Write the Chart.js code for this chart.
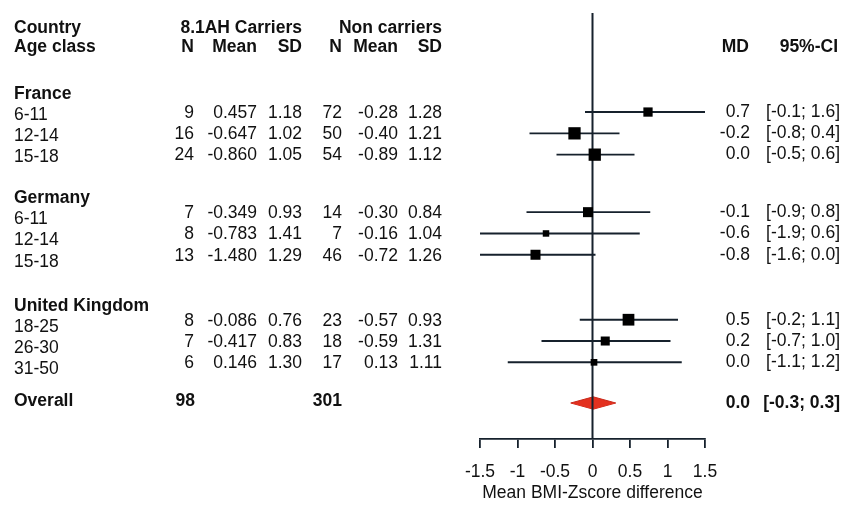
<!DOCTYPE html>
<html lang="en">
<head>
<meta charset="UTF-8">
<title>BMI Z-score forest plot</title>
<script src="https://cdn.jsdelivr.net/npm/chart.js"></script>
<style>
  body { margin: 0; background: #ffffff; }
  #wrap { width: 845px; height: 506px; }
</style>
</head>
<body>
<div id="wrap"><canvas id="forest"></canvas></div>
<script>
// Study table
const countries = ['France', 'Germany', 'United Kingdom'];
const countryOf = [0, 0, 0, 1, 1, 1, 2, 2, 2];
const ageClasses = ['6-11', '12-14', '15-18', '6-11', '12-14', '15-18', '18-25', '26-30', '31-50'];

const carrierN = [9, 16, 24, 7, 8, 13, 8, 7, 6];
const carrierMean = [0.457, -0.647, -0.860, -0.349, -0.783, -1.480, -0.086, -0.417, 0.146];
const carrierSD = [1.18, 1.02, 1.05, 0.93, 1.41, 1.29, 0.76, 0.83, 1.30];

const nonN = [72, 50, 54, 14, 7, 46, 23, 18, 17];
const nonMean = [-0.28, -0.40, -0.89, -0.30, -0.16, -0.72, -0.57, -0.59, 0.13];
const nonSD = [1.28, 1.21, 1.12, 0.84, 1.04, 1.26, 0.93, 1.31, 1.11];

// mean difference with 95% CI, and relative weight (%)
const md = [0.74, -0.24, 0.03, -0.06, -0.62, -0.76, 0.48, 0.17, 0.02];
const ciLow = [-0.10, -0.84, -0.48, -0.88, -1.87, -1.56, -0.17, -0.68, -1.13];
const ciHigh = [1.57, 0.36, 0.56, 0.77, 0.63, 0.04, 1.14, 1.04, 1.19];
const weights = [9.6, 16.9, 16.9, 11.2, 4.7, 11.2, 15.4, 9.1, 5.0];

const overallMd = 0.01;
const overallLow = -0.29;
const overallHigh = 0.31;
const totalCarriers = 98;
const totalNon = 301;

const xTicks = [-1.5, -1, -0.5, 0, 0.5, 1, 1.5];

// row layout (in row units on the y scale)
const Y_MIN = -4.65, Y_MAX = 15.35;
const groupStart = [0, 4.7, 9.75];
const labelShift = [3, 7, 7];
const rowOf = countryOf.map((g, i) => groupStart[g] + (i - countryOf.indexOf(g)));
const overallRow = 13.66;

const INK = '#111111';
const LINE = '#16212c';
const FONT = '"Liberation Sans", Arial, sans-serif';
const SIZE = 17.5;

const datasets = [];

// squares, sized by weight
datasets.push({
  data: md.map((m, i) => ({ x: m, y: rowOf[i] })),
  pointStyle: 'rect',
  pointRadius: weights.map(w => 2.99 * Math.sqrt(w) / Math.SQRT2),
  backgroundColor: '#000000',
  borderWidth: 0,
  order: 0
});

// line of no effect
datasets.push({
  data: [{ x: 0, y: Y_MIN }, { x: 0, y: Y_MAX }],
  showLine: true,
  pointRadius: 0,
  borderColor: LINE,
  borderWidth: 2,
  order: 1
});

// confidence intervals
md.forEach((m, i) => {
  datasets.push({
    data: [{ x: ciLow[i], y: rowOf[i] }, { x: ciHigh[i], y: rowOf[i] }],
    showLine: true,
    pointRadius: 0,
    borderColor: LINE,
    borderWidth: 1.9,
    order: 2
  });
});

// overall diamond: upper half filled down to lower half
const halfH = 0.29;
datasets.push({
  data: [{ x: overallLow, y: overallRow }, { x: overallMd, y: overallRow - halfH }, { x: overallHigh, y: overallRow }],
  showLine: true,
  pointRadius: 0,
  borderColor: '#c8281a',
  borderWidth: 1,
  backgroundColor: '#e3311f',
  fill: '+1',
  tension: 0,
  order: 3
});
datasets.push({
  data: [{ x: overallLow, y: overallRow }, { x: overallMd, y: overallRow + halfH }, { x: overallHigh, y: overallRow }],
  showLine: true,
  pointRadius: 0,
  borderColor: '#c8281a',
  borderWidth: 1,
  tension: 0,
  order: 3
});

// table columns drawn around the plot
const tablePlugin = {
  id: 'forestTable',
  afterDraw(chart) {
    const ctx = chart.ctx;
    const yOf = v => chart.scales.y.getPixelForValue(v);
    const put = (txt, x, y, align, bold) => {
      ctx.font = (bold ? 'bold ' : '') + SIZE + 'px ' + FONT;
      ctx.textAlign = align;
      ctx.fillText(txt, x, y);
    };
    ctx.save();
    ctx.fillStyle = INK;
    ctx.textBaseline = 'middle';

    const h1 = 28, h2 = 47;
    put('Country', 14, h1, 'left', true);
    put('Age class', 14, h2, 'left', true);
    put('8.1AH Carriers', 302, h1, 'right', true);
    put('N', 194, h2, 'right', true);
    put('Mean', 257, h2, 'right', true);
    put('SD', 302, h2, 'right', true);
    put('Non carriers', 442, h1, 'right', true);
    put('N', 342, h2, 'right', true);
    put('Mean', 398, h2, 'right', true);
    put('SD', 442, h2, 'right', true);
    put('MD', 749, h2, 'right', true);
    put('95%-CI', 838, h2, 'right', true);

    countries.forEach((c, g) => {
      const first = countryOf.indexOf(g);
      put(c, 14, yOf(rowOf[first]) + labelShift[g] - 21, 'left', true);
    });

    md.forEach((m, i) => {
      const y = yOf(rowOf[i]);
      const g = countryOf[i];
      put(ageClasses[i], 14, y + labelShift[g], 'left', false);
      put(String(carrierN[i]), 194, y + 1, 'right', false);
      put(carrierMean[i].toFixed(3), 257, y + 1, 'right', false);
      put(carrierSD[i].toFixed(2), 302, y + 1, 'right', false);
      put(String(nonN[i]), 342, y + 1, 'right', false);
      put(nonMean[i].toFixed(2), 398, y + 1, 'right', false);
      put(nonSD[i].toFixed(2), 442, y + 1, 'right', false);
      put(m.toFixed(1), 750, y, 'right', false);
      put('[' + ciLow[i].toFixed(1) + '; ' + ciHigh[i].toFixed(1) + ']', 840, y, 'right', false);
    });

    const yo = yOf(overallRow);
    put('Overall', 14, yo - 2, 'left', true);
    put(String(totalCarriers), 195, yo - 2, 'right', true);
    put(String(totalNon), 342, yo - 2, 'right', true);
    put(overallMd.toFixed(1), 750, yo, 'right', true);
    put('[' + overallLow.toFixed(1) + '; ' + overallHigh.toFixed(1) + ']', 840, yo, 'right', true);
    ctx.restore();
  }
};

new Chart(document.getElementById('forest'), {
  type: 'scatter',
  data: { datasets: datasets },
  options: {
    responsive: true,
    maintainAspectRatio: false,
    animation: false,
    layout: { padding: { left: 480, right: 140, top: 13, bottom: 2.5 } },
    plugins: {
      legend: { display: false },
      tooltip: { enabled: false }
    },
    scales: {
      x: {
        type: 'linear',
        position: 'bottom',
        min: -1.5,
        max: 1.5,
        afterBuildTicks: scale => { scale.ticks = xTicks.map(v => ({ value: v })); },
        ticks: {
          autoSkip: false,
          maxRotation: 0,
          padding: 14,
          color: INK,
          font: { family: FONT, size: SIZE },
          callback: v => String(v)
        },
        grid: {
          drawOnChartArea: false,
          drawTicks: true,
          tickLength: 9,
          color: LINE,
          lineWidth: 1.8
        },
        border: { display: true, color: LINE, width: 1.8 },
        title: {
          display: true,
          text: 'Mean BMI-Zscore difference',
          color: INK,
          font: { family: FONT, size: SIZE },
          padding: { top: -14.5, bottom: 0 }
        }
      },
      y: {
        type: 'linear',
        display: false,
        reverse: true,
        min: Y_MIN,
        max: Y_MAX
      }
    }
  },
  plugins: [tablePlugin]
});
</script>
</body>
</html>
